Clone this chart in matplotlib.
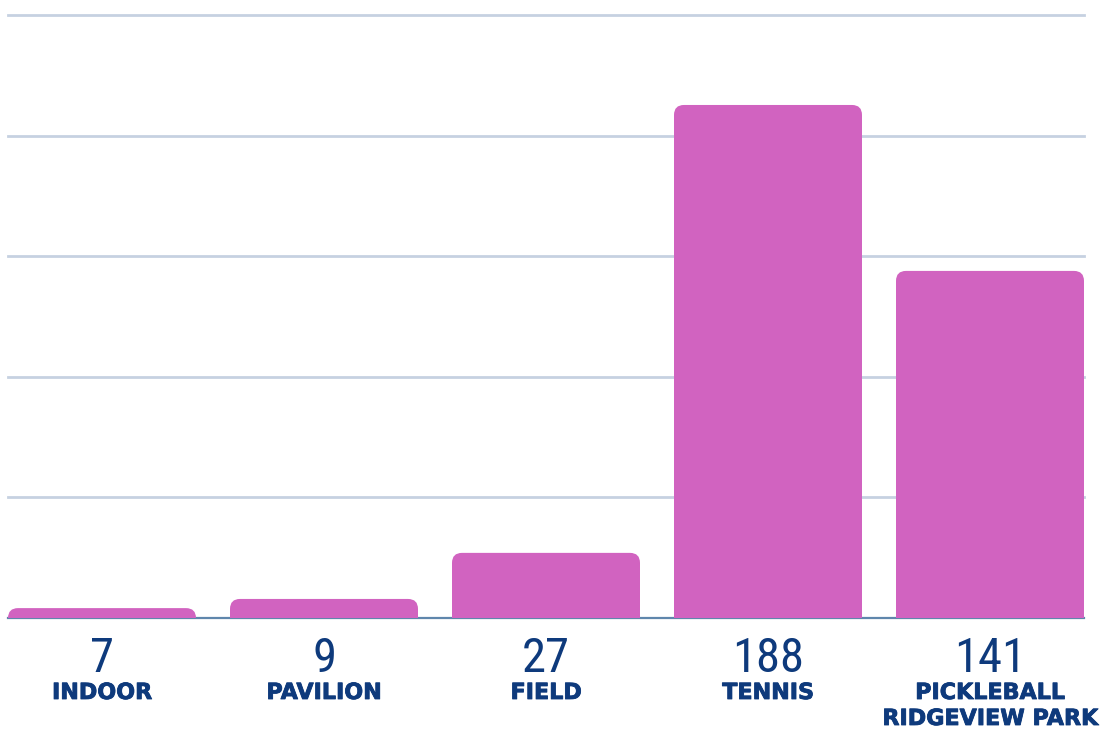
import matplotlib
matplotlib.use('Agg')
import matplotlib.pyplot as plt
import matplotlib.patheffects as pe
from matplotlib.patches import FancyBboxPatch
from matplotlib.transforms import blended_transform_factory

# datos del gráfico
categories = ['INDOOR', 'PAVILION', 'FIELD', 'TENNIS', 'PICKLEBALL\nRIDGEVIEW PARK']
counts = [7, 9, 27, 188, 141]
bar_heights = [4.1, 7.9, 27, 212.7, 143.9]   # altura visible de cada barra
grid_ticks = [0, 50, 100, 150, 200, 250]

bar_color = '#D163C0'
navy = '#0E3A7C'
grid_color = '#C6D1E1'
base_color = '#5F86AC'

fig = plt.figure(figsize=(11, 7.29), dpi=100)
ax = fig.add_axes([8 / 1100, 111 / 729, 1076 / 1100, 603 / 729])

width = 188 / 222
ax.set_xlim(-width / 2, len(categories) - 1 + width / 2)
ax.set_ylim(0, grid_ticks[-1])

for t in grid_ticks[1:]:
    ax.axhline(t, color=grid_color, lw=2, zorder=0, clip_on=False)
ax.axhline(0, color=base_color, lw=1.6, zorder=1, clip_on=False)

# barras con esquinas superiores redondeadas
r = 10 / 222
aspect = 222 / 2.412
for i, h in enumerate(bar_heights):
    ry = r * aspect
    p = FancyBboxPatch((i - width / 2, -ry), width, h + ry,
                       boxstyle='round,pad=0,rounding_size=%f' % r,
                       mutation_aspect=aspect, fc=bar_color, ec='none',
                       zorder=2, clip_on=True)
    ax.add_patch(p)

trans = blended_transform_factory(ax.transData, fig.transFigure)
num_family = ['Roboto Condensed', 'Liberation Sans Narrow', 'DejaVu Sans']
for i, (c, n) in enumerate(zip(categories, counts)):
    ax.text(i, (729 - 672) / 729, str(n), transform=trans,
            ha='center', va='baseline', fontsize=35, color=navy,
            family=num_family)
    for k, line in enumerate(c.split('\n')):
        ax.text(i, (729 - 699 - 26 * k) / 729, line, transform=trans,
                ha='center', va='baseline', fontsize=16, color=navy,
                family='DejaVu Sans', fontweight='bold',
                path_effects=[pe.withStroke(linewidth=0.6, foreground=navy)])

ax.axis('off')
fig.savefig('out.png', dpi=100)
